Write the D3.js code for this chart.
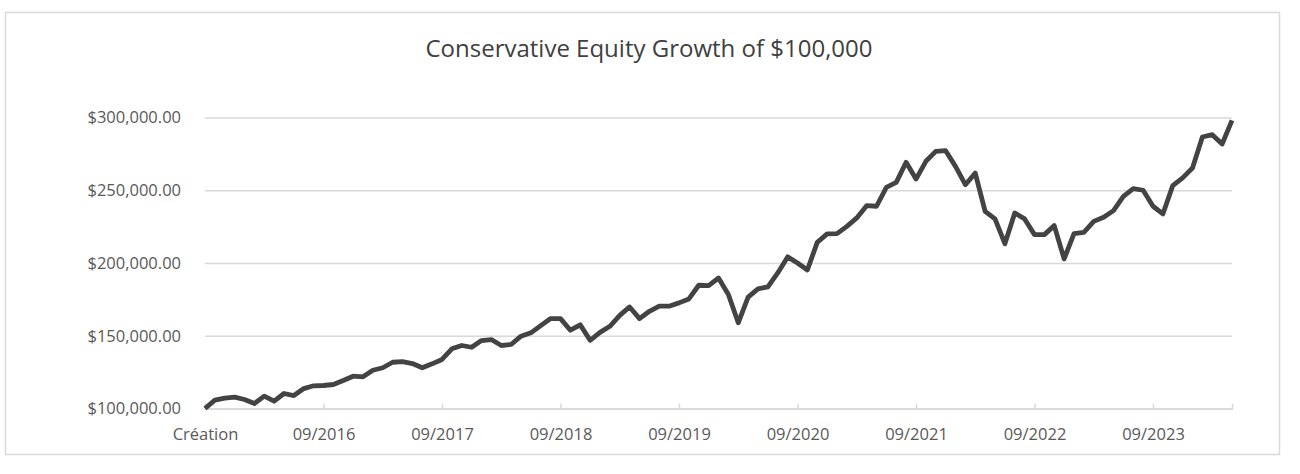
<!DOCTYPE html>
<html>
<head>
<meta charset="utf-8">
<script src="https://cdn.jsdelivr.net/npm/d3@7"></script>
<style>
  body { margin: 0; background: #fff; overflow: hidden; }
  svg { display: block; }
  text { font-family: "Open Sans", sans-serif; }
</style>
</head>
<body>
<svg id="chart"></svg>
<script>
/* data */
var titleText = "Conservative Equity Growth of $100,000";

// monthly values, 09/2015 ("Création") to 05/2024
var values = [
  100000, 105700, 107100, 107800, 106200, 103400, 108500, 105000, 110300, 108900,
  113700, 115600, 115800, 116500, 119200, 122200, 121800, 126300, 128000, 131800,
  132200, 130900, 128000, 130700, 133700, 141000, 143300, 142100, 146700, 147400,
  143300, 144000, 149700, 152000, 157000, 161800, 161800, 153800, 157500, 146900,
  152300, 156500, 164000, 169800, 161800, 166800, 170300, 170300, 172600, 175300,
  184700, 184500, 189700, 178300, 158900, 176500, 182200, 183600, 193200, 204200,
  200000, 195200, 214200, 220000, 220200, 225200, 231000, 239400, 239000, 252000,
  255400, 269200, 257700, 269900, 276700, 277200, 266400, 253800, 261800, 235500,
  230300, 213300, 234400, 230300, 219500, 219500, 225700, 202800, 220200, 221100,
  228600, 231400, 236000, 245800, 251100, 250000, 239000, 233700, 253200, 258500,
  265300, 286600, 288200, 281800, 298000
];

// category axis: a label every 12 months
var xTickIndex  = [0, 12, 24, 36, 48, 60, 72, 84, 96];
var xTickLabels = ["Création", "09/2016", "09/2017", "09/2018", "09/2019",
                   "09/2020", "09/2021", "09/2022", "09/2023"];

var yTicks = [100000, 150000, 200000, 250000, 300000];

/* settings */
var width = 1300,
    height = 474,
    margin = { top: 117.5, right: 68, bottom: 65.5, left: 205 },
    innerWidth = width - margin.left - margin.right,
    innerHeight = height - margin.top - margin.bottom,
    gridColor = "#d9d9d9",
    labelColor = "#595959",
    lineColor = "#434343";

var svg = d3.select("#chart")
    .attr("width", width)
    .attr("height", height);

/* outer chart border */
svg.append("rect")
    .attr("x", 5.5)
    .attr("y", 12.5)
    .attr("width", 1274)
    .attr("height", 442)
    .attr("fill", "#fff")
    .attr("stroke", gridColor)
    .attr("stroke-width", 1.5);

/* title */
svg.append("text")
    .attr("x", 649)
    .attr("y", 57)
    .attr("text-anchor", "middle")
    .attr("fill", "#404040")
    .style("font-size", "24px")
    .text(titleText);

var g = svg.append("g")
    .attr("transform", "translate(" + margin.left + "," + margin.top + ")");

/* scales */
var xScale = d3.scaleLinear()
    .domain([0, values.length - 1])
    .range([0, innerWidth]);

var yScale = d3.scaleLinear()
    .domain([100000, 300000])
    .range([innerHeight, 0]);

/* y-axis with gridlines */
var yAxis = d3.axisLeft(yScale)
    .tickValues(yTicks)
    .tickSize(-innerWidth)
    .tickPadding(24)
    .tickFormat(d3.format("$,.2f"));

var yAxisG = g.append("g")
    .attr("class", "y-axis")
    .call(yAxis);

yAxisG.select(".domain").remove();
yAxisG.selectAll(".tick line")
    .attr("stroke", gridColor)
    .attr("stroke-width", 1.5);
yAxisG.selectAll(".tick text")
    .attr("fill", labelColor)
    .style("font-size", "16.5px");

/* x-axis: short ticks pointing up, labels below */
var xAxis = d3.axisBottom(xScale)
    .tickValues(xTickIndex)
    .tickSize(-5)
    .tickPadding(20)
    .tickFormat(function (d, i) { return xTickLabels[i]; });

var xAxisG = g.append("g")
    .attr("class", "x-axis")
    .attr("transform", "translate(0," + innerHeight + ")")
    .call(xAxis);

xAxisG.select(".domain")
    .attr("stroke", gridColor)
    .attr("stroke-width", 1.5);
xAxisG.selectAll(".tick line")
    .attr("stroke", gridColor)
    .attr("stroke-width", 1.5);
xAxisG.selectAll(".tick text")
    .attr("fill", labelColor)
    .style("font-size", "16.5px");

/* the line */
var line = d3.line()
    .x(function (d, i) { return xScale(i); })
    .y(function (d) { return yScale(d); });

g.append("path")
    .datum(values)
    .attr("fill", "none")
    .attr("stroke", lineColor)
    .attr("stroke-width", 4.8)
    .attr("stroke-linejoin", "round")
    .attr("d", line);
</script>
</body>
</html>
